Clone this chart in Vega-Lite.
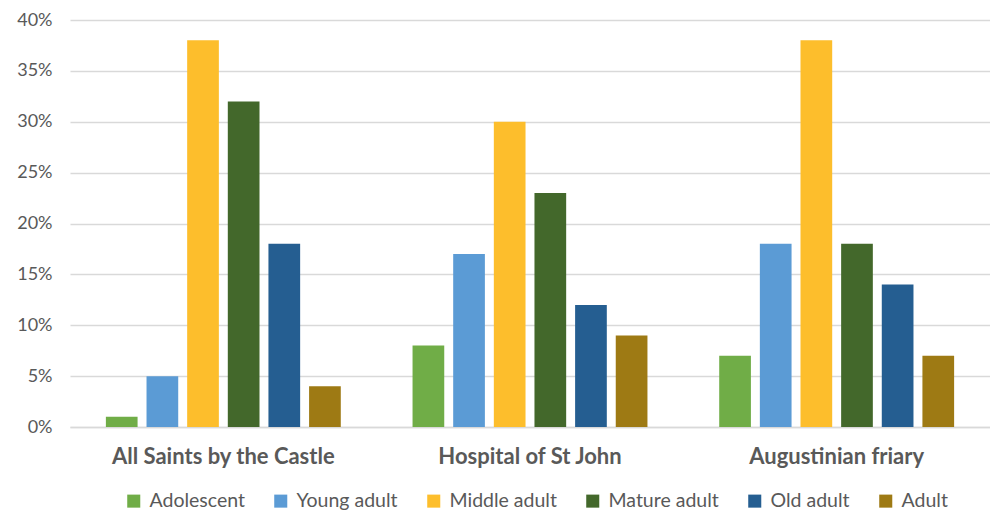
{
  "$schema": "https://vega.github.io/schema/vega-lite/v6.json",
  "width": 920,
  "height": 407,
  "autosize": {"type": "none"},
  "padding": {"left": 70, "top": 20, "right": 0, "bottom": 87},
  "background": "white",
  "config": {
    "view": {"stroke": null},
    "font": "Lato"
  },
  "data": {
    "values": [
      {"site": "All Saints by the Castle", "age": "Adolescent", "pct": 0.01},
      {"site": "All Saints by the Castle", "age": "Young adult", "pct": 0.05},
      {"site": "All Saints by the Castle", "age": "Middle adult", "pct": 0.38},
      {"site": "All Saints by the Castle", "age": "Mature adult", "pct": 0.32},
      {"site": "All Saints by the Castle", "age": "Old adult", "pct": 0.18},
      {"site": "All Saints by the Castle", "age": "Adult", "pct": 0.04},
      {"site": "Hospital of St John", "age": "Adolescent", "pct": 0.08},
      {"site": "Hospital of St John", "age": "Young adult", "pct": 0.17},
      {"site": "Hospital of St John", "age": "Middle adult", "pct": 0.30},
      {"site": "Hospital of St John", "age": "Mature adult", "pct": 0.23},
      {"site": "Hospital of St John", "age": "Old adult", "pct": 0.12},
      {"site": "Hospital of St John", "age": "Adult", "pct": 0.09},
      {"site": "Augustinian friary", "age": "Adolescent", "pct": 0.07},
      {"site": "Augustinian friary", "age": "Young adult", "pct": 0.18},
      {"site": "Augustinian friary", "age": "Middle adult", "pct": 0.38},
      {"site": "Augustinian friary", "age": "Mature adult", "pct": 0.18},
      {"site": "Augustinian friary", "age": "Old adult", "pct": 0.14},
      {"site": "Augustinian friary", "age": "Adult", "pct": 0.07}
    ]
  },
  "mark": {"type": "bar"},
  "encoding": {
    "x": {
      "field": "site",
      "type": "nominal",
      "sort": ["All Saints by the Castle", "Hospital of St John", "Augustinian friary"],
      "scale": {"paddingInner": 0.234, "paddingOuter": 0.117},
      "axis": {
        "title": null,
        "labelAngle": 0,
        "labelLimit": 0,
        "labelFont": "Lato",
        "labelFontSize": 22,
        "labelFontWeight": "bold",
        "labelColor": "#595959",
        "labelPadding": 19,
        "ticks": false,
        "domainColor": "#d9d9d9",
        "domainWidth": 1.5
      }
    },
    "xOffset": {
      "field": "age",
      "type": "nominal",
      "sort": ["Adolescent", "Young adult", "Middle adult", "Mature adult", "Old adult", "Adult"],
      "scale": {"paddingInner": 0.22, "paddingOuter": 0}
    },
    "y": {
      "field": "pct",
      "type": "quantitative",
      "scale": {"domain": [0, 0.4]},
      "axis": {
        "title": null,
        "format": ".0%",
        "values": [0, 0.05, 0.1, 0.15, 0.2, 0.25, 0.3, 0.35, 0.4],
        "labelFont": "Lato",
        "labelFontSize": 18,
        "labelColor": "#595959",
        "labelPadding": 18,
        "ticks": false,
        "domain": false,
        "gridColor": "#d9d9d9",
        "gridWidth": 1.5
      }
    },
    "color": {
      "field": "age",
      "type": "nominal",
      "scale": {
        "domain": ["Adolescent", "Young adult", "Middle adult", "Mature adult", "Old adult", "Adult"],
        "range": ["#70AD47", "#5B9BD5", "#FDBE2C", "#43682B", "#255E91", "#9E7A14"]
      },
      "legend": {
        "title": null,
        "orient": "none",
        "legendX": 54,
        "legendY": 471,
        "direction": "horizontal",
        "symbolType": "square",
        "symbolSize": 170,
        "symbolStrokeWidth": 0,
        "labelFont": "Lato",
        "labelFontSize": 19.5,
        "labelColor": "#595959",
        "columnPadding": 26,
        "labelOffset": 6
      }
    }
  }
}
